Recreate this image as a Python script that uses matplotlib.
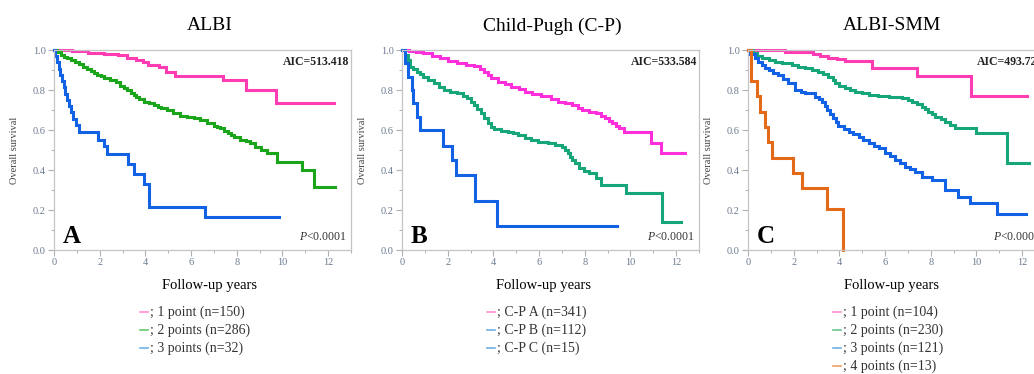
import matplotlib
matplotlib.use("Agg")
import matplotlib.pyplot as plt
from matplotlib.lines import Line2D
from matplotlib.ticker import MultipleLocator

plt.rcParams["font.family"] = ["Liberation Serif", "DejaVu Serif"]
plt.rcParams["mathtext.fontset"] = "custom"
plt.rcParams["mathtext.it"] = "Liberation Serif:italic"
plt.rcParams["mathtext.rm"] = "Liberation Serif"

# ---- data (step start times, survival) ----
# A: ALBI
albi1_t = [0, 0.8, 1.5, 2.2, 2.8, 3.2, 3.6, 3.9, 4.1, 4.6, 4.9, 5.3, 7.4, 8.4, 9.7]
albi1_s = [1.0, 0.993, 0.987, 0.98, 0.973, 0.96, 0.95, 0.94, 0.925, 0.915, 0.89, 0.87, 0.85, 0.80, 0.737]
albi1_end = 12.25

albi2_t = [0, 0.15, 0.3, 0.45, 0.56, 0.75, 0.9, 1.1, 1.29, 1.45, 1.6, 1.75, 1.87, 2.05, 2.2, 2.46,
           2.7, 2.9, 3.05, 3.19, 3.35, 3.48, 3.6, 3.7, 3.92, 4.15, 4.36, 4.55, 4.7, 4.94, 5.2, 5.53,
           5.8, 6.11, 6.4, 6.7, 7.0, 7.15, 7.28, 7.45, 7.6, 7.75, 7.87, 8.16, 8.4, 8.6, 8.8, 9.04,
           9.33, 9.77, 10.86, 11.37]
albi2_s = [1.0, 0.99, 0.975, 0.965, 0.958, 0.95, 0.94, 0.93, 0.917, 0.905, 0.895, 0.885, 0.875,
           0.868, 0.86, 0.85, 0.84, 0.82, 0.81, 0.80, 0.787, 0.775, 0.765, 0.755, 0.74, 0.733, 0.725,
           0.717, 0.71, 0.70, 0.685, 0.672, 0.665, 0.658, 0.648, 0.637, 0.62, 0.613, 0.608, 0.597,
           0.585, 0.575, 0.567, 0.55, 0.543, 0.533, 0.515, 0.50, 0.483, 0.44, 0.40, 0.317]
albi2_end = 12.32

albi3_t = [0, 0.05, 0.12, 0.2, 0.28, 0.35, 0.42, 0.5, 0.58, 0.65, 0.75, 0.85, 0.95, 1.1, 1.94,
           2.2, 2.31, 3.25, 3.48, 3.92, 4.14, 6.62]
albi3_s = [1.0, 0.969, 0.938, 0.906, 0.875, 0.844, 0.813, 0.781, 0.75, 0.719, 0.688, 0.656, 0.625,
           0.59, 0.55, 0.52, 0.48, 0.43, 0.38, 0.33, 0.217, 0.163]
albi3_end = 9.84

# B: Child-Pugh
cpa_t = [0, 0.3, 0.6, 0.94, 1.3, 1.68, 2.0, 2.42, 2.8, 3.16, 3.4, 3.6, 3.75, 3.9, 4.19, 4.5, 4.78,
         5.1, 5.37, 5.7, 6.1, 6.5, 6.84, 7.15, 7.43, 7.7, 7.88, 8.2, 8.47, 8.7, 8.9, 9.05, 9.2, 9.35,
         9.5, 9.72, 10.9, 11.34]
cpa_s = [1.0, 0.995, 0.99, 0.983, 0.97, 0.958, 0.945, 0.933, 0.925, 0.92, 0.905, 0.892, 0.875,
         0.858, 0.842, 0.83, 0.817, 0.805, 0.792, 0.78, 0.77, 0.755, 0.742, 0.733, 0.725, 0.712,
         0.70, 0.692, 0.683, 0.67, 0.658, 0.645, 0.633, 0.62, 0.608, 0.59, 0.535, 0.487]
cpa_end = 12.4

cpb_t = [0, 0.12, 0.25, 0.35, 0.5, 0.65, 0.8, 0.94, 1.15, 1.39, 1.6, 1.83, 2.1, 2.42, 2.65, 2.86,
         3.0, 3.16, 3.3, 3.45, 3.6, 3.75, 3.9, 4.04, 4.35, 4.63, 4.85, 5.07, 5.37, 5.65, 5.96, 6.4,
         6.7, 6.99, 7.14, 7.25, 7.35, 7.43, 7.58, 7.73, 7.95, 8.17, 8.47, 8.69, 9.8, 11.39]
cpb_s = [1.0, 0.975, 0.95, 0.917, 0.905, 0.892, 0.88, 0.867, 0.85, 0.833, 0.817, 0.80, 0.79,
         0.783, 0.77, 0.758, 0.742, 0.725, 0.705, 0.683, 0.66, 0.633, 0.617, 0.603, 0.597, 0.592,
         0.583, 0.575, 0.558, 0.55, 0.542, 0.533, 0.525, 0.517, 0.50, 0.483, 0.467, 0.45, 0.433,
         0.408, 0.395, 0.383, 0.358, 0.325, 0.283, 0.142]
cpb_end = 12.23

cpc_t = [0, 0.13, 0.28, 0.43, 0.5, 0.65, 0.8, 1.8, 2.2, 2.35, 3.19, 4.15]
cpc_s = [1.0, 0.933, 0.867, 0.8, 0.733, 0.667, 0.6, 0.52, 0.45, 0.373, 0.245, 0.12]
cpc_end = 9.4

# C: ALBI-SMM
smm1_t = [0, 1.62, 2.85, 3.16, 3.5, 3.89, 4.25, 5.42, 7.4, 9.74]
smm1_s = [1.0, 0.99, 0.98, 0.97, 0.96, 0.955, 0.945, 0.91, 0.87, 0.77]
smm1_end = 12.22

smm2_t = [0, 0.2, 0.4, 0.6, 0.9, 1.18, 1.5, 1.92, 2.2, 2.5, 2.8, 3.08, 3.3, 3.52, 3.7, 3.82, 4.0,
          4.25, 4.45, 4.69, 5.0, 5.28, 5.7, 6.15, 6.74, 7.0, 7.18, 7.4, 7.6, 7.75, 7.9, 8.05, 8.2,
          8.45, 8.64, 8.85, 9.08, 9.96, 11.35]
smm2_s = [1.0, 0.985, 0.97, 0.958, 0.95, 0.942, 0.933, 0.925, 0.917, 0.908, 0.9, 0.892, 0.88,
          0.867, 0.85, 0.833, 0.82, 0.808, 0.8, 0.792, 0.783, 0.775, 0.77, 0.767, 0.758, 0.75,
          0.742, 0.73, 0.717, 0.705, 0.692, 0.68, 0.667, 0.655, 0.642, 0.625, 0.608, 0.583, 0.433]
smm2_end = 12.3

smm3_t = [0, 0.1, 0.3, 0.45, 0.6, 0.75, 0.9, 1.1, 1.33, 1.55, 1.77, 2.06, 2.3, 2.5, 2.94, 3.1,
          3.23, 3.35, 3.45, 3.6, 3.74, 3.85, 3.96, 4.2, 4.4, 4.6, 4.84, 5.05, 5.28, 5.5, 5.72, 6.0,
          6.2, 6.45, 6.65, 6.89, 7.1, 7.32, 7.6, 8.05, 8.64, 9.2, 9.7, 10.9]
smm3_s = [1.0, 0.98, 0.958, 0.94, 0.925, 0.912, 0.9, 0.887, 0.875, 0.855, 0.833, 0.80, 0.79,
          0.783, 0.767, 0.755, 0.742, 0.72, 0.70, 0.68, 0.658, 0.64, 0.62, 0.605, 0.592, 0.58,
          0.567, 0.55, 0.533, 0.52, 0.508, 0.487, 0.47, 0.45, 0.433, 0.417, 0.405, 0.392, 0.367,
          0.35, 0.30, 0.267, 0.237, 0.18]
smm3_end = 12.15

smm4_t = [0, 0.13, 0.38, 0.53, 0.75, 0.89, 1.04, 1.99, 2.35, 3.45, 4.14]
smm4_s = [1.0, 0.846, 0.769, 0.692, 0.615, 0.538, 0.462, 0.385, 0.308, 0.205, 0.0]
smm4_end = 4.14

titles = ["ALBI", "Child-Pugh (C-P)", "ALBI-SMM"]
letters = ["A", "B", "C"]
aic_labels = ["AIC=513.418", "AIC=533.584", "AIC=493.724"]
legend_a = ["; 1 point (n=150)", "; 2 points (n=286)", "; 3 points (n=32)"]
legend_b = ["; C-P\u2009A (n=341)", "; C-P\u2009B (n=112)", "; C-P\u2009C (n=15)"]
legend_c = ["; 1 point (n=104)", "; 2 points (n=230)", "; 3 points (n=121)", "; 4 points (n=13)"]

pink = "#ff3cb4"
magenta = "#ff30dc"
green = "#1aa51a"
teal = "#17a57a"
blue = "#1262e6"
orange = "#e26a18"

panels = [
    dict(curves=[(albi1_t, albi1_s, albi1_end, pink), (albi2_t, albi2_s, albi2_end, green),
                 (albi3_t, albi3_s, albi3_end, blue)],
         legend=legend_a, dash=["#ff8fd2", "#66c870", "#6fb0e8"],
         left=54, title_x=210, xlab_x=209, leg_x=140),
    dict(curves=[(cpa_t, cpa_s, cpa_end, magenta), (cpb_t, cpb_s, cpb_end, teal),
                 (cpc_t, cpc_s, cpc_end, blue)],
         legend=legend_b, dash=["#ff8fd2", "#6fb0e8", "#6fb0e8"],
         left=402, title_x=552, xlab_x=543, leg_x=487),
    dict(curves=[(smm1_t, smm1_s, smm1_end, pink), (smm2_t, smm2_s, smm2_end, teal),
                 (smm3_t, smm3_s, smm3_end, blue), (smm4_t, smm4_s, smm4_end, orange)],
         legend=legend_c, dash=["#ff8fd2", "#66c890", "#6fb0e8", "#f0a060"],
         left=748, title_x=892, xlab_x=892, leg_x=833),
]

W, H = 1034, 374
fig = plt.figure(figsize=(W / 100, H / 100), dpi=100)

for i, p in enumerate(panels):
    ax = fig.add_axes([p["left"] / W, (H - 250) / H, 297 / W, 200 / H])
    for t, s, end, col in p["curves"]:
        ax.step(list(t) + [end], list(s) + [s[-1]], where="post", color=col, lw=2.2,
                clip_on=False, solid_joinstyle="miter")
    ax.set_xlim(0, 13)
    ax.set_ylim(0, 1.0)
    ax.set_xticks(range(0, 13, 2))
    ax.set_yticks([0, 0.2, 0.4, 0.6, 0.8, 1.0])
    ax.set_yticklabels(["0.0", "0.2", "0.4", "0.6", "0.8", "1.0"])
    ax.xaxis.set_minor_locator(MultipleLocator(1))
    ax.yaxis.set_minor_locator(MultipleLocator(0.1))
    ax.tick_params(which="major", length=4, width=0.8, color="#b0b0b0", labelsize=7.5,
                   labelcolor="#6b7a90", pad=2)
    ax.tick_params(which="minor", length=2.5, width=0.7, color="#b0b0b0")
    for sp in ax.spines.values():
        sp.set_color("#c4c4c4")
        sp.set_linewidth(0.9)
    ax.set_ylabel("Overall survival", fontsize=7.5, color="#444444")
    ax.yaxis.set_label_coords(-0.118, 0.5)

    ax.text(0.03, 0.035, letters[i], transform=ax.transAxes, fontsize=18, fontweight="bold",
            ha="left", va="baseline")
    ax.text(0.993, 0.94, aic_labels[i], transform=ax.transAxes, fontsize=8.5, fontweight="bold",
            ha="right", va="center", color="#222222")
    ax.text(0.985, 0.065, r"$P$<0.0001", transform=ax.transAxes, fontsize=8.5,
            ha="right", va="center", color="#333333")

    fig.text(p["title_x"] / W, 1 - 26 / H, titles[i], ha="center", va="center", fontsize=14)
    fig.text(p["xlab_x"] / W, 1 - 285 / H, "Follow-up years", ha="center", va="center",
             fontsize=10.5)

    for j, (lab, dcol) in enumerate(zip(p["legend"], p["dash"])):
        y = 1 - (312 + 18 * j) / H
        x0 = p["leg_x"] / W
        fig.add_artist(Line2D([x0, x0 + 8 / W], [y, y], color=dcol, lw=1.2))
        fig.text(x0 + 10 / W, y, lab, ha="left", va="center", fontsize=10, color="#333333")

fig.savefig("out.png", dpi=100)
